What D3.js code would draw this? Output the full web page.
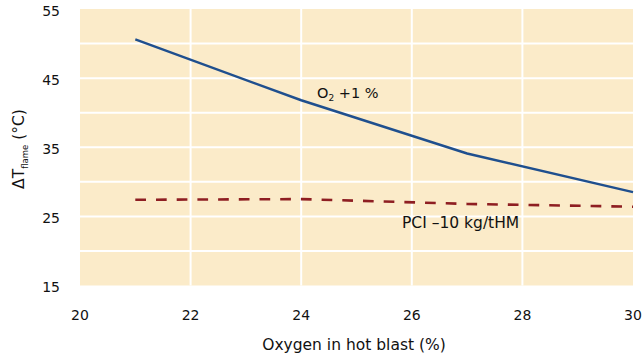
<!DOCTYPE html>
<html><head><meta charset="utf-8">
<script src="https://cdn.jsdelivr.net/npm/d3@7"></script>
<style>body{margin:0;background:#fff}svg{display:block}text{font-family:"DejaVu Sans",sans-serif;fill:#111}</style>
</head><body>
<svg id="c" width="643" height="359"></svg>
<script>
const xTicks = [20, 22, 24, 26, 28, 30];
const yTicks = [15, 25, 35, 45, 55];
const yGrid = [20, 25, 30, 35, 40, 45, 50];
const o2X = [21, 24, 27, 30];
const o2Y = [50.6, 41.8, 34.1, 28.5];
const pciX = [21, 24, 27, 30];
const pciY = [27.4, 27.5, 26.8, 26.4];

const svg = d3.select("#c");
const x = d3.scaleLinear().domain([20, 30]).range([80, 633]);
const y = d3.scaleLinear().domain([15, 55]).range([285.5, 9]);

svg.append("rect").attr("x", x(20)).attr("y", y(55)).attr("width", x(30) - x(20)).attr("height", y(15) - y(55)).attr("fill", "#FBEBC9");

svg.selectAll(".vg").data(xTicks.slice(1, -1)).join("line")
  .attr("x1", d => x(d)).attr("x2", d => x(d)).attr("y1", y(55)).attr("y2", y(15))
  .attr("stroke", "#fff").attr("stroke-width", 2);
svg.selectAll(".hg").data(yGrid).join("line")
  .attr("x1", x(20)).attr("x2", x(30)).attr("y1", d => y(d)).attr("y2", d => y(d))
  .attr("stroke", "#fff").attr("stroke-width", 2);

const line = d3.line().x(d => x(d[0])).y(d => y(d[1]));
svg.append("path").datum(o2X.map((v, i) => [v, o2Y[i]])).attr("d", line)
  .attr("fill", "none").attr("stroke", "#1F4F8E").attr("stroke-width", 2.4);
svg.append("path").datum(pciX.map((v, i) => [v, pciY[i]])).attr("d", line)
  .attr("fill", "none").attr("stroke", "#8E1E22").attr("stroke-width", 2.6).attr("stroke-dasharray", "10.7,10");

svg.selectAll(".yt").data(yTicks).join("text")
  .attr("x", 60).attr("y", d => y(d) + 1.5).attr("dy", "0.36em").attr("text-anchor", "end")
  .attr("font-size", 14).text(d => d);
svg.selectAll(".xt").data(xTicks).join("text")
  .attr("x", d => x(d)).attr("y", 320).attr("text-anchor", "middle")
  .attr("font-size", 14).text(d => d);

svg.append("text").attr("x", 354).attr("y", 350).attr("text-anchor", "middle")
  .attr("font-size", 15.5).text("Oxygen in hot blast (%)");

const yt = svg.append("text").attr("transform", "translate(24,149) rotate(-90)").attr("text-anchor", "middle").attr("font-size", 15.5);
yt.append("tspan").text("ΔT");
yt.append("tspan").attr("font-size", 8.5).attr("dy", 4).text("flame");
yt.append("tspan").attr("dy", -4).text(" (°C)");

const t1 = svg.append("text").attr("x", 317).attr("y", 98).attr("font-size", 14.5);
t1.append("tspan").text("O");
t1.append("tspan").attr("font-size", 9).attr("dy", 3).text("2");
t1.append("tspan").attr("dy", -3).text(" +1 %");

svg.append("text").attr("x", 402).attr("y", 228).attr("font-size", 15.5).text("PCI –10 kg/tHM");
</script>
</body></html>
